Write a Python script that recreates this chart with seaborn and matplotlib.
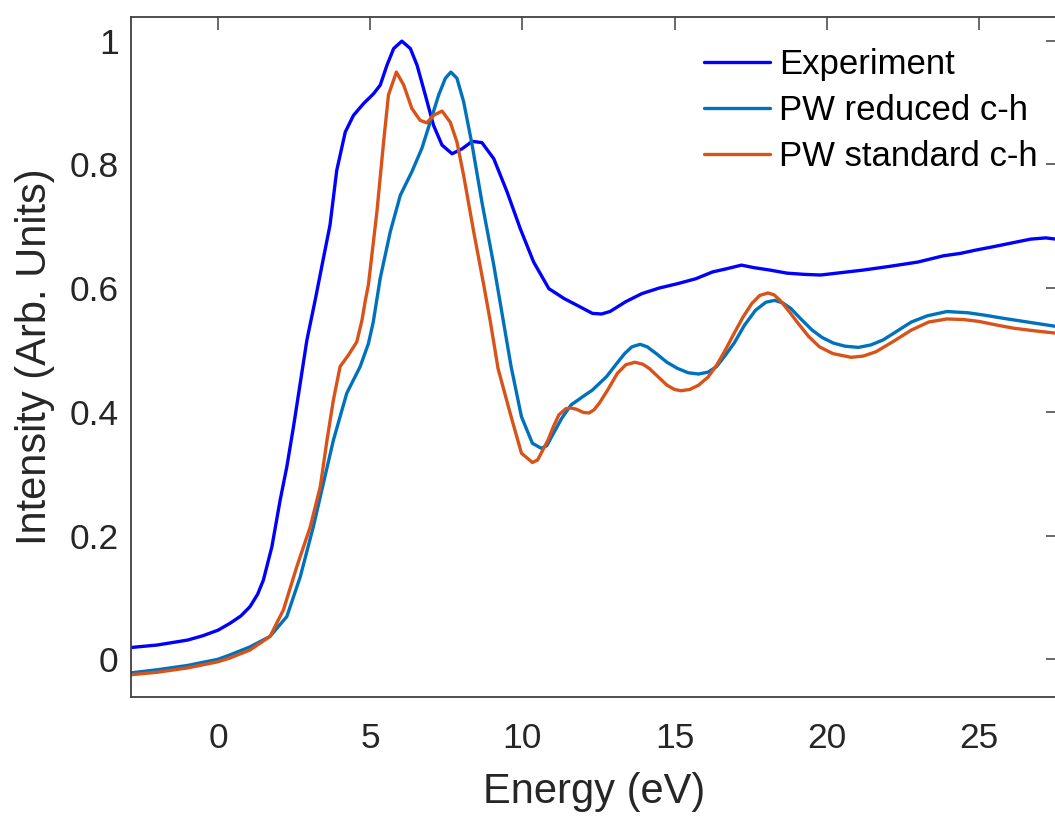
import numpy as np
import pandas as pd
import matplotlib
matplotlib.use("Agg")
import matplotlib.pyplot as plt
import seaborn as sns

# ---- data ----
exp_x = [-2.86, -2.0, -1.0, -0.5, 0.0, 0.39, 0.75, 1.05, 1.3, 1.49, 1.77, 2.04, 2.26, 2.48, 2.7,
         2.92, 3.19, 3.45, 3.68, 3.9, 4.18, 4.45, 4.78, 5.11, 5.33, 5.55, 5.77, 6.04, 6.32, 6.54,
         6.81, 7.08, 7.36, 7.69, 8.02, 8.35, 8.67, 9.06, 9.5, 9.93, 10.37, 10.87, 11.37, 11.8,
         12.3, 12.6, 12.88, 13.4, 13.93, 14.5, 15.1, 15.7, 16.25, 16.7, 17.2, 17.6, 18.13, 18.7,
         19.28, 19.8, 20.33, 21.2, 22.07, 23.0, 23.83, 24.4, 24.87, 25.5, 26.0, 26.7, 27.2, 27.53]
exp_y = [0.019, 0.023, 0.031, 0.038, 0.047, 0.058, 0.07, 0.085, 0.105, 0.128, 0.182, 0.257, 0.311, 0.376, 0.446,
         0.516, 0.58, 0.645, 0.702, 0.79, 0.852, 0.879, 0.898, 0.914, 0.928, 0.96, 0.987, 0.999, 0.987, 0.96,
         0.912, 0.863, 0.831, 0.817, 0.825, 0.837, 0.835, 0.809, 0.755, 0.696, 0.642, 0.599, 0.583, 0.572,
         0.559, 0.558, 0.562, 0.578, 0.591, 0.6, 0.607, 0.615, 0.626, 0.631, 0.637, 0.633, 0.629, 0.624,
         0.622, 0.621, 0.624, 0.629, 0.635, 0.642, 0.652, 0.656, 0.661, 0.667, 0.672, 0.679, 0.681, 0.679]

red_x = [-2.86, -2.0, -1.0, 0.0, 0.39, 1.05, 1.71, 2.26, 2.7, 3.13, 3.46, 3.79, 4.23, 4.67, 4.94,
         5.1, 5.33, 5.66, 5.99, 6.37, 6.7, 6.97, 7.25, 7.47, 7.65, 7.85, 8.07, 8.35, 8.67, 9.06,
         9.38, 9.63, 9.97, 10.33, 10.62, 10.8, 11.02, 11.3, 11.6, 12.0, 12.3, 12.77, 13.1, 13.36,
         13.6, 13.87, 14.1, 14.4, 14.75, 15.1, 15.45, 15.79, 16.1, 16.38, 16.65, 16.96, 17.3,
         17.66, 18.0, 18.29, 18.55, 18.82, 19.15, 19.52, 19.85, 20.22, 20.6, 21.04, 21.45, 21.85,
         22.3, 22.78, 23.3, 23.95, 24.64, 25.2, 25.81, 26.6, 27.53]
red_y = [-0.022, -0.017, -0.01, 0.0, 0.007, 0.02, 0.037, 0.069, 0.133, 0.214, 0.284, 0.354, 0.43, 0.473, 0.51,
         0.545, 0.616, 0.691, 0.75, 0.788, 0.826, 0.868, 0.912, 0.939, 0.949, 0.939, 0.901, 0.831, 0.739, 0.637,
         0.545, 0.473, 0.392, 0.349, 0.341, 0.345, 0.365, 0.39, 0.411, 0.425, 0.435, 0.457, 0.478, 0.494,
         0.505, 0.509, 0.505, 0.494, 0.48, 0.47, 0.463, 0.461, 0.464, 0.473, 0.49, 0.511, 0.54,
         0.564, 0.577, 0.58, 0.576, 0.567, 0.55, 0.532, 0.52, 0.511, 0.506, 0.504, 0.508, 0.516,
         0.53, 0.545, 0.555, 0.562, 0.56, 0.556, 0.551, 0.545, 0.538]

std_x = [-2.86, -2.0, -1.0, 0.0, 0.39, 1.05, 1.71, 2.15, 2.59, 3.03, 3.36, 3.58, 3.79, 4.01, 4.29,
         4.56, 4.73, 4.84, 4.94, 5.22, 5.44, 5.6, 5.86, 6.1, 6.37, 6.64, 6.86, 7.08, 7.36, 7.63,
         7.85, 8.07, 8.4, 8.73, 8.95, 9.2, 9.63, 9.97, 10.33, 10.5, 10.67, 10.85, 11.02, 11.2,
         11.43, 11.6, 11.78, 12.0, 12.19, 12.35, 12.53, 12.8, 13.12, 13.4, 13.7, 13.95, 14.17,
         14.45, 14.75, 15.0, 15.21, 15.5, 15.79, 16.1, 16.38, 16.65, 16.96, 17.25, 17.54, 17.8,
         18.07, 18.27, 18.47, 18.75, 19.06, 19.4, 19.76, 20.2, 20.8, 21.2, 21.62, 22.2, 22.78,
         23.35, 23.95, 24.5, 25.0, 25.6, 26.15, 26.8, 27.53]
std_y = [-0.025, -0.021, -0.014, -0.004, 0.002, 0.015, 0.037, 0.08, 0.15, 0.214, 0.279, 0.354, 0.419, 0.473, 0.492,
         0.513, 0.548, 0.58, 0.605, 0.723, 0.836, 0.912, 0.949, 0.928, 0.89, 0.871, 0.867, 0.879, 0.886, 0.868,
         0.836, 0.782, 0.691, 0.605, 0.545, 0.47, 0.392, 0.333, 0.318, 0.322, 0.338, 0.355, 0.376, 0.395,
         0.405, 0.406, 0.404, 0.399, 0.398, 0.403, 0.414, 0.435, 0.462, 0.476, 0.48, 0.477, 0.47,
         0.457, 0.443, 0.436, 0.434, 0.436, 0.443, 0.456, 0.475, 0.498, 0.527, 0.553, 0.575, 0.588,
         0.592, 0.589, 0.58, 0.563, 0.543, 0.522, 0.505, 0.494, 0.488, 0.49, 0.497, 0.514, 0.532,
         0.545, 0.55, 0.549, 0.546, 0.54, 0.535, 0.531, 0.527]

series_names = ["Experiment", "PW reduced c-h", "PW standard c-h"]
series_colors = ["#0000FF", "#0072BD", "#D95319"]
x_ticks = [0, 5, 10, 15, 20, 25]
y_ticks = [0, 0.2, 0.4, 0.6, 0.8, 1.0]
y_tick_labels = ["0", "0.2", "0.4", "0.6", "0.8", "1"]

frames = []
for name, xs, ys in zip(series_names, [exp_x, red_x, std_x], [exp_y, red_y, std_y]):
    frames.append(pd.DataFrame({"Energy": xs, "Intensity": ys, "Series": name}))
df = pd.concat(frames, ignore_index=True)

sns.set_style("white")
plt.rcParams["font.family"] = ["Liberation Sans", "DejaVu Sans"]

W, H = 1055, 819
fig = plt.figure(figsize=(W / 100, H / 100), dpi=100)
ax = fig.add_axes([131 / W, (H - 697) / H, (1058 - 131) / W, (697 - 17) / H])

sns.lineplot(data=df, x="Energy", y="Intensity", hue="Series",
             palette=dict(zip(series_names, series_colors)), hue_order=series_names,
             sort=False, estimator=None, linewidth=2.4, ax=ax)

ax.set_xlim(-2.86, 27.6)
ax.set_ylim(-0.061, 1.038)
ax.set_xticks(x_ticks)
ax.set_yticks(y_ticks)
ax.set_yticklabels(y_tick_labels)

axcol = "#262626"
for sp in ax.spines.values():
    sp.set_visible(True)
    sp.set_color("#404040")
    sp.set_linewidth(1.3)
ax.tick_params(direction="in", length=9, width=1.1, color="#404040", top=True, right=True,
               labelsize=25.5, labelcolor=axcol)
ax.tick_params(axis="x", pad=18)
ax.tick_params(axis="y", pad=9)
ax.set_xlabel("Energy (eV)", fontsize=30, color=axcol, labelpad=12)
ax.set_ylabel("Intensity (Arb. Units)", fontsize=30, color=axcol, labelpad=10)

leg = ax.legend(loc="upper left", bbox_to_anchor=(704 / W, (H - 48) / H),
                bbox_transform=fig.transFigure, frameon=False, fontsize=25,
                handlelength=1.9, handletextpad=0.25, labelspacing=0.38,
                borderaxespad=0, borderpad=0)
for t in leg.get_texts():
    t.set_color("black")

fig.savefig("out.png", dpi=100)
